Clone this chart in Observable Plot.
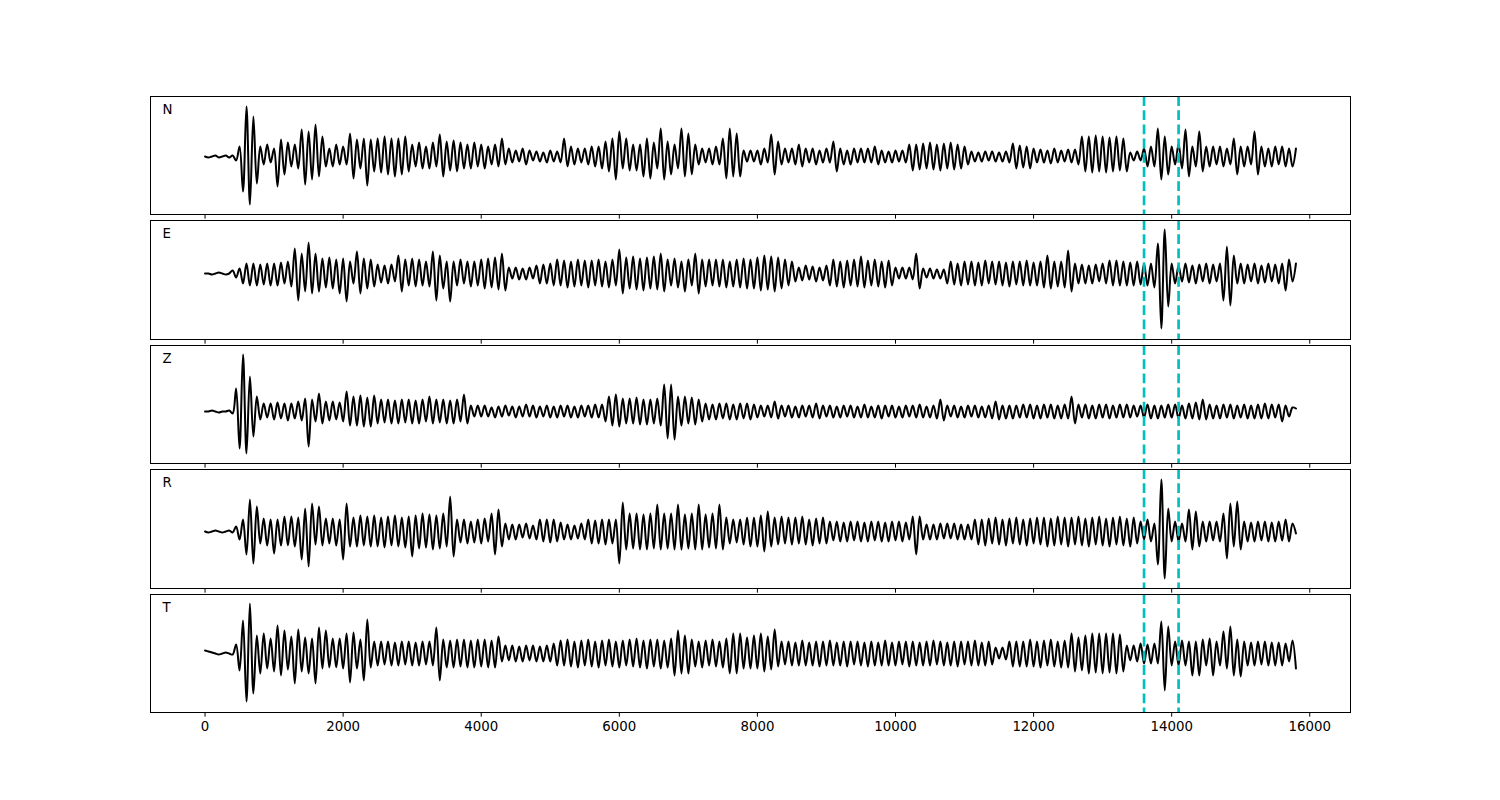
<!DOCTYPE html>
<html><head><meta charset="utf-8">
<script src="https://cdn.jsdelivr.net/npm/d3@7"></script>
<script src="https://cdn.jsdelivr.net/npm/@observablehq/plot@0.6"></script>
<style>
body{margin:0;background:#fff;}
#chart{position:relative;width:1500px;height:800px;background:#fff;overflow:hidden;}
#chart > div{position:absolute;left:0;}
</style></head><body><div id="chart"></div>
<script>
// ---- data ----
const SAMPLE_DT = 50;                 // time between listed samples
const channels = ["N", "E", "Z", "R", "T"];
const xTicks = [0, 2000, 4000, 6000, 8000, 10000, 12000, 14000, 16000];
const markers = [13600, 14100];       // dashed picks

const ampN = [
0,-1,0,1,-1,0,1,-1,1,-4, 10,-35,50,-48,40,-27,10,-8,12,-6, 8,-30,17,-18,14,-10,12,-12,27,-28,
25,-23,32,-20,20,-10,8,-10,12,-8, 10,-8,23,-22,17,-12,18,-29,17,-15, 18,-16,20,-18,18,-20,18,-18,20,-15,
12,-10,14,-12,10,-12,14,-10,22,-20, 15,-14,16,-15,14,-12,12,-12,14,-10, 12,-12,10,-8,12,-10,18,-8,8,-6,
6,-5,8,-8,6,-4,5,-5,4,-6, 6,-5,5,-6,18,-10,10,-8,8,-6, 8,-8,10,-10,10,-12,15,-15,18,-23,
25,-12,18,-14,12,-14,12,-20,18,-22, 14,-12,28,-23,15,-18,12,-12,28,-20, 23,-18,12,-8,8,-6,8,-8,10,-8,
18,-22,28,-20,23,-20,6,-5,6,-5, 6,-8,8,-6,22,-18,15,-8,8,-6, 8,-8,12,-10,8,-6,8,-8,6,-6,
8,-6,15,-15,8,-8,6,-8,8,-6, 8,-6,8,-6,10,-8,6,-6,5,-6, 6,-5,6,-6,12,-14,12,-13,13,-12,
14,-13,12,-14,13,-12,14,-13,12,-12, 10,-8,5,-5,4,-5,5,-4,5,-5, 4,-5,5,-6,13,-12,11,-11,10,-12,
8,-6,7,-6,6,-7,8,-6,6,-5, 7,-6,7,-8,20,-15,20,-16,21,-15, 20,-16,19,-15,20,-14,18,-15,4,-4,
5,-4,8,-10,10,-10,28,-23,20,-18, 10,-8,13,-12,27,-20,10,-10,25,-15, 10,-10,10,-8,10,-10,8,-8,18,-18,
10,-10,10,-8,25,-18,10,-10,8,-10, 10,-8,10,-10,8,-10,8
];
const ampE = [
0,0,-1,0,1,0,-1,0,3,-4, 5,-10,10,-12,10,-12,9,-11,10,-12, 10,-12,11,-10,12,-13,25,-27,20,-18,
31,-20,20,-18,15,-14,16,-15,14,-20, 15,-28,12,-10,22,-20,15,-15,14,-13, 9,-9,8,-10,9,-8,18,-18,14,-12,
15,-13,14,-12,12,-13,22,-27,18,-15, 12,-28,12,-12,14,-10,12,-13,12,-12, 14,-15,15,-14,16,-16,20,-17,6,-5,
6,-6,5,-6,6,-5,8,-10,9,-10, 10,-12,14,-12,13,-14,12,-13,14,-12, 13,-14,13,-12,14,-13,12,-14,14,-12,
24,-20,16,-15,17,-16,15,-17,16,-15, 17,-16,20,-18,14,-12,15,-14,12,-18, 14,-12,20,-20,14,-13,14,-12,14,-13,
14,-14,12,-13,14,-14,15,-15,14,-15, 16,-17,18,-16,17,-18,16,-15,14,-12, 12,-8,6,-7,8,-6,7,-8,6,-7,
8,-12,14,-13,12,-14,13,-12,14,-13, 17,-14,13,-12,14,-13,12,-14,13,-12, 6,-5,6,-5,6,-6,20,-15,5,-4,
5,-5,4,-5,4,-10,12,-11,10,-12, 12,-11,12,-12,11,-12,13,-10,12,-11, 12,-12,11,-13,12,-11,12,-12,13,-12,
11,-12,12,-14,18,-15,12,-13,12,-14, 23,-18,10,-10,9,-10,8,-10,9,-8, 10,-10,13,-12,13,-12,12,-12,11,-12,
12,-11,10,-12,10,-14,30,-55,44,-33, 10,-10,8,-8,10,-9,8,-10,9,-8, 10,-10,9,-8,10,-27,27,-32,18,-10,
10,-10,9,-8,10,-10,8,-9,10,-8, 9,-10,10,-17,14,-8,10
];
const ampZ = [
0,0,1,0,-1,0,0,1,-2,23, -37,57,-42,35,-25,15,-8,8,-6,8, -8,9,-7,8,-9,8,-7,10,-9,13,
-35,12,-10,18,-12,10,-9,10,-8,9, -10,20,-14,15,-14,16,-15,14,-15,16, -12,12,-11,12,-12,11,-12,12,-11,12,
-12,11,-12,12,-10,15,-12,12,-11,12, -12,11,-12,12,-10,17,-12,6,-5,6, -5,6,-5,4,-6,5,-5,6,-4,5,
-6,5,-5,7,-5,6,-6,5,-5,6, -6,5,-6,6,-5,6,-6,5,-6,6, -5,6,-6,7,-6,7,-10,15,-14,17,
-15,13,-12,13,-12,14,-13,12,-13,12, -12,13,-14,27,-27,27,-28,15,-14,15, -12,14,-13,12,-10,8,-8,7,-8,8,
-7,8,-8,7,-8,8,-7,8,-8,7, -6,6,-5,6,-6,10,-7,6,-5,6, -6,5,-6,6,-5,6,-6,8,-7,6,
-5,6,-6,5,-6,6,-5,6,-6,5, -6,7,-6,5,-6,6,-7,6,-5,6, -6,5,-6,6,-5,6,-6,7,-6,5,
-6,6,-7,12,-9,6,-5,6,-6,5, -6,6,-5,6,-6,5,-6,6,-7,10, -8,6,-7,6,-7,6,-6,7,-6,7,
-7,6,-7,7,-6,7,-7,6,-7,7, -7,15,-12,7,-6,7,-7,6,-7,7, -6,7,-7,6,-6,7,-6,7,-6,6,
-5,6,-6,7,-7,6,-7,6,-6,7, -6,7,-7,6,-7,8,-7,9,-8,12, -8,7,-7,6,-7,7,-6,7,-7,6,
-6,7,-7,6,-7,7,-7,8,-7,7, -6,7,-10,6,-5,4,3
];
const ampR = [
0,-1,0,1,0,-1,0,1,-1,5, -8,12,-23,32,-32,25,-12,13,-14,12, -22,12,-14,15,-14,15,-15,14,-28,23,
-35,28,-13,25,-14,13,-12,13,-14,12, -28,28,-15,14,-15,16,-14,15,-15,16, -15,14,-16,15,-14,16,-15,14,-16,15,
-25,16,-17,18,-16,17,-18,16,-17,18, -15,35,-25,12,-11,12,-12,10,-11,12, -12,13,-10,18,-23,22,-15,8,-8,7,
-8,7,-6,8,-7,6,-8,12,-10,12, -11,12,-10,9,-8,7,-8,6,-7,8, -8,12,-12,11,-12,12,-13,12,-12,12,
-32,29,-18,18,-17,18,-18,17,-18,18, -17,27,-18,18,-17,18,-18,27,-18,17, -17,18,-18,27,-18,17,-16,18,-17,27,
-18,14,-12,12,-11,12,-13,14,-15,14, -15,16,-20,20,-15,14,-13,15,-12,14, -13,14,-12,15,-13,12,-14,13,-12,14,
-12,10,-9,10,-10,9,-10,10,-9,10, -10,9,-10,10,-9,10,-10,9,-10,10, -9,10,-10,9,-8,15,-23,15,-8,7,
-8,7,-8,8,-7,8,-7,8,-8,7, -8,7,-8,12,-13,12,-14,13,-12,14, -13,12,-14,13,-12,14,-13,12,-14,13,
-12,14,-13,14,-15,13,-14,15,-13,14, -15,14,-13,15,-14,13,-15,14,-13,15, -14,13,-15,14,-13,15,-14,13,-15,14,
-12,10,-8,12,-10,8,-33,52,-47,23, -10,10,-10,8,-10,22,-18,20,-15,10, -10,10,-9,10,-10,18,-27,28,-15,30,
-18,10,-10,9,-10,10,-9,10,-10,9, -10,10,-9,12,-10,8,-2
];
const ampT = [
3,2,1,0,-1,0,1,0,-1,9, -17,33,-48,50,-40,18,-20,20,-15,15, -18,28,-22,23,-16,17,-30,24,-18,16,
-20,15,-30,26,-15,23,-14,15,-14,15, -15,20,-29,21,-15,14,-27,34,-14,12, -12,12,-11,12,-12,11,-12,12,-11,12,
-12,11,-12,12,-11,12,-12,26,-27,14, -14,13,-14,14,-13,14,-14,13,-14,14, -13,14,-14,13,-14,17,-8,8,-7,8,
-8,7,-8,8,-7,8,-8,7,-8,8, -8,10,-12,13,-12,14,-13,12,-14,13, -12,14,-13,12,-14,13,-12,14,-13,12,
-14,13,-12,14,-13,15,-14,13,-15,14, -13,14,-15,13,-14,15,-22,23,-20,18, -20,14,-13,12,-14,13,-12,14,-13,12,
-14,15,-20,20,-20,20,-15,16,-15,18, -15,20,-18,17,-16,24,-13,12,-11,12, -12,11,-12,13,-12,11,-12,12,-13,12,
-12,13,-12,11,-12,12,-13,12,-11,12, -12,11,-13,12,-12,11,-12,13,-12,11, -12,12,-11,12,-13,12,-12,11,-12,12,
-12,13,-11,12,-12,11,-12,12,-13,12, -11,12,-12,13,-12,11,-12,12,-11,6, -5,6,-6,12,-13,12,-13,12,-13,14,
-13,12,-14,13,-12,14,-13,12,-14,13, -14,20,-18,16,-17,18,-20,20,-19,20, -20,20,-19,20,-20,19,-18,8,-7,8,
-8,10,-10,9,-10,10,-10,32,-37,27, -12,12,-12,13,-12,12,-22,12,-22,14, -12,15,-22,12,-12,22,-15,27,-22,14,
-23,12,-12,11,-12,12,-11,12,-12,11, -12,11,-12,10,-8,13,-15
];
const amplitudes = {N: ampN, E: ampE, Z: ampZ, R: ampR, T: ampT};

// ---- layout (pixels) ----
const panelTop    = [96, 220, 345, 469, 594];
const panelBottom = [214, 339, 463, 588, 712];
const yDomain = {N: [-58, 60], E: [-66, 53], Z: [-52, 66], R: [-57, 62], T: [-59, 59]};
const X_DOMAIN = [-790, 16590];

const root = document.getElementById("chart");
channels.forEach((ch, k) => {
  const last = k === channels.length - 1;
  const mt = 2, mb = last ? 40 : 10;
  const data = amplitudes[ch].map((a, i) => ({t: i * SAMPLE_DT, a}));
  const plot = Plot.plot({
    width: 1500,
    height: (panelBottom[k] - panelTop[k]) + mt + mb,
    marginLeft: 150, marginRight: 150, marginTop: mt, marginBottom: mb,
    style: {fontFamily: "'DejaVu Sans', sans-serif", fontSize: "13.33px", color: "black", background: "transparent", overflow: "visible"},
    x: {domain: X_DOMAIN},
    y: {domain: yDomain[ch], axis: null},
    marks: [
      Plot.lineY(data, {x: "t", y: "a", stroke: "black", strokeWidth: 2, curve: "catmull-rom"}),
      Plot.ruleX(markers, {stroke: "#00bfbf", strokeWidth: 2.67, strokeDasharray: "9.9,4.3"}),
      Plot.frame({stroke: "black", strokeWidth: 1}),
      Plot.axisX({ticks: xTicks, tickSize: 4.67, tickPadding: 4.67, label: null,
                  tickFormat: last ? (d => String(d)) : (() => "")}),
      Plot.text([ch], {frameAnchor: "top-left", dx: 12, dy: 17, lineAnchor: "bottom", textAnchor: "start", fontSize: 13.33, fill: "black"})
    ]
  });
  const wrap = document.createElement("div");
  wrap.style.top = (panelTop[k] - mt) + "px";
  wrap.appendChild(plot);
  root.appendChild(wrap);
});
</script>
</body></html>
